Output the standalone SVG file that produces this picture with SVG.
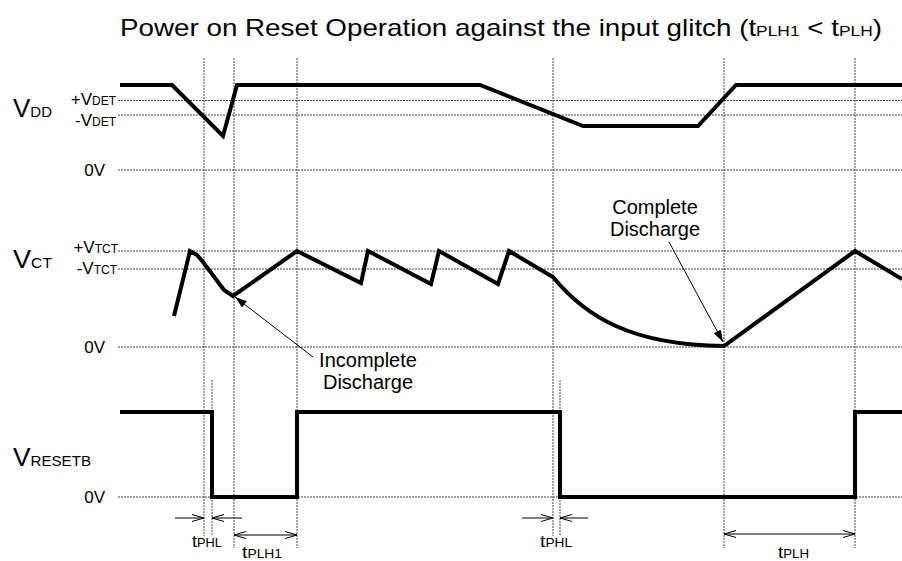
<svg xmlns="http://www.w3.org/2000/svg" width="902" height="561" viewBox="0 0 902 561">
<style>
text{font-family:"Liberation Sans",Arial,Helvetica,sans-serif;fill:#000}
.grid{stroke:#444;stroke-width:1;stroke-dasharray:2 1;fill:none}
.wave{stroke:#000;stroke-width:4;fill:none;stroke-linejoin:miter;stroke-miterlimit:6}
.dim{stroke:#000;stroke-width:1;fill:none}
.big{font-size:26px}
.bsub{font-size:15px}
.lv{font-size:17px}
.lsub{font-size:12px}
.note{font-size:20px;text-anchor:middle}
</style>
<defs>
<marker id="open" viewBox="0 0 12 8" refX="12" refY="4" markerWidth="12" markerHeight="8" markerUnits="userSpaceOnUse" orient="auto-start-reverse">
<path d="M0,0.5 L12,4 L0,7.5" fill="none" stroke="#000" stroke-width="1"/>
</marker>
<marker id="solid" viewBox="0 0 12 8" refX="12" refY="4" markerWidth="12" markerHeight="8" markerUnits="userSpaceOnUse" orient="auto">
<path d="M0,0 L12,4 L0,8 z" fill="#000"/>
</marker>
</defs>
<rect width="902" height="561" fill="#fff"/>

<g id="title">
<text x="120" y="36" font-size="24" textLength="762" lengthAdjust="spacingAndGlyphs">Power on Reset Operation against the input glitch (t<tspan font-size="15">PLH1</tspan> &lt; t<tspan font-size="15">PLH</tspan>)</text>
</g>

<g id="grid">
<line class="grid" x1="118" y1="100.5" x2="902" y2="100.5"/>
<line class="grid" x1="118" y1="115" x2="902" y2="115"/>
<line class="grid" x1="118" y1="170" x2="902" y2="170"/>
<line class="grid" x1="118" y1="251" x2="902" y2="251"/>
<line class="grid" x1="118" y1="269" x2="902" y2="269"/>
<line class="grid" x1="118" y1="347" x2="902" y2="347"/>
<line class="grid" x1="118" y1="497" x2="902" y2="497"/>
<line class="grid" x1="204" y1="58" x2="204" y2="536"/>
<line class="grid" x1="212" y1="380" x2="212" y2="536"/>
<line class="grid" x1="234" y1="58" x2="234" y2="548"/>
<line class="grid" x1="297" y1="58" x2="297" y2="548"/>
<line class="grid" x1="553" y1="58" x2="553" y2="536"/>
<line class="grid" x1="560" y1="380" x2="560" y2="536"/>
<line class="grid" x1="724" y1="58" x2="724" y2="548"/>
<line class="grid" x1="855" y1="58" x2="855" y2="548"/>
</g>

<g id="labels">
<text x="13" y="117" class="big" textLength="39" lengthAdjust="spacingAndGlyphs">V<tspan class="bsub">DD</tspan></text>
<text x="116" y="105" class="lv" text-anchor="end">+V<tspan class="lsub">DET</tspan></text>
<text x="116" y="126" class="lv" text-anchor="end">-V<tspan class="lsub">DET</tspan></text>
<text x="105" y="176" class="lv" text-anchor="end">0V</text>
<text x="13" y="268" class="big" textLength="39" lengthAdjust="spacingAndGlyphs">V<tspan class="bsub">CT</tspan></text>
<text x="118" y="253" class="lv" text-anchor="end">+V<tspan class="lsub">TCT</tspan></text>
<text x="117" y="274" class="lv" text-anchor="end">-V<tspan class="lsub">TCT</tspan></text>
<text x="105" y="353" class="lv" text-anchor="end">0V</text>
<text x="13" y="466" class="big" textLength="78" lengthAdjust="spacingAndGlyphs">V<tspan class="bsub">RESETB</tspan></text>
<text x="105" y="503" class="lv" text-anchor="end">0V</text>
</g>

<g id="waveforms">
<polyline id="vdd" class="wave" points="120,85 172,85 223,136 237,85 480,85 583,126 698,126 736,85 902,85"/>
<path id="vct" class="wave" d="M174,316 L190,251 L197,255 L203,262 L224,290 L233,296 L297,251 L361,283 L368,251 L431,284 L439,251 L498,284 L509,251 L553,277 C585,316 630,345 724,346 L855,251 L902,279"/>
<polyline id="vresetb" class="wave" points="120,412 212,412 212,497 297,497 297,412 560,412 560,497 855,497 855,412 902,412"/>
</g>

<g id="annotations">
<line class="dim" x1="313" y1="357" x2="235" y2="297" marker-end="url(#solid)"/>
<text class="note" x="368" y="367">Incomplete</text>
<text class="note" x="368" y="389">Discharge</text>
<line class="dim" x1="669" y1="242" x2="723" y2="342" marker-end="url(#solid)"/>
<text class="note" x="655" y="214">Complete</text>
<text class="note" x="655" y="236">Discharge</text>
</g>

<g id="dimensions">
<line class="dim" x1="175" y1="518" x2="204" y2="518" marker-end="url(#open)"/>
<line class="dim" x1="242" y1="518" x2="212" y2="518" marker-end="url(#open)"/>
<line class="dim" x1="234" y1="535" x2="297" y2="535" marker-start="url(#open)" marker-end="url(#open)"/>
<line class="dim" x1="522" y1="518" x2="553" y2="518" marker-end="url(#open)"/>
<line class="dim" x1="588" y1="518" x2="560" y2="518" marker-end="url(#open)"/>
<line class="dim" x1="724" y1="534" x2="855" y2="534" marker-start="url(#open)" marker-end="url(#open)"/>
<text x="192" y="547" class="lv" textLength="30" lengthAdjust="spacingAndGlyphs">t<tspan class="lsub">PHL</tspan></text>
<text x="242" y="558" class="lv" textLength="40" lengthAdjust="spacingAndGlyphs">t<tspan class="lsub">PLH1</tspan></text>
<text x="540" y="547" class="lv" textLength="32" lengthAdjust="spacingAndGlyphs">t<tspan class="lsub">PHL</tspan></text>
<text x="778" y="558" class="lv" textLength="31" lengthAdjust="spacingAndGlyphs">t<tspan class="lsub">PLH</tspan></text>
</g>
</svg>
